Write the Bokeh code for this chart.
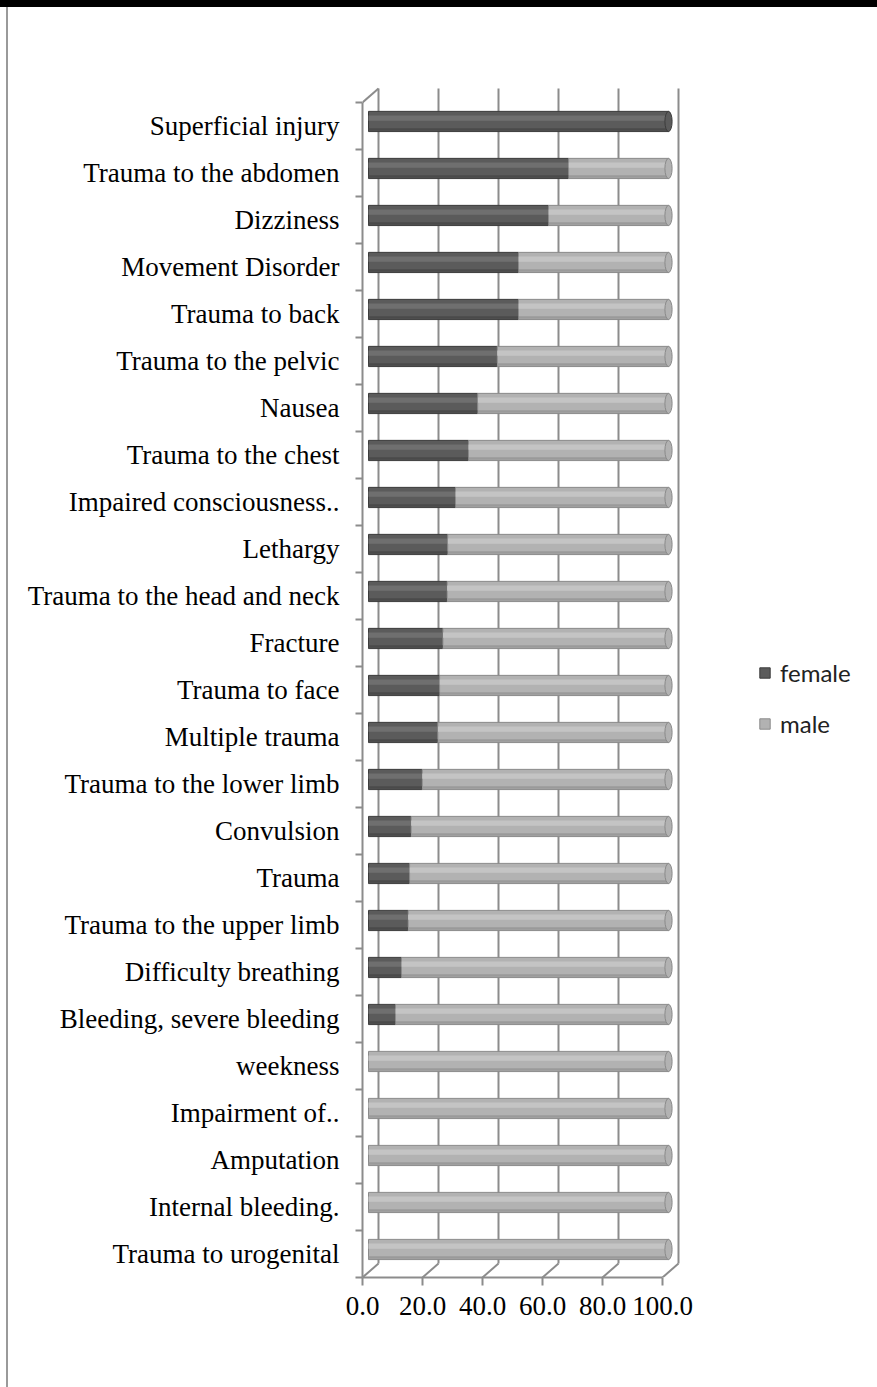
from bokeh.plotting import figure
from bokeh.models import Range1d, LinearAxis, FixedTicker, NumeralTickFormatter, Legend, LegendItem, Div
from bokeh.layouts import row
from bokeh.embed import file_html
from bokeh.resources import INLINE

categories = ["Superficial injury", "Trauma to the abdomen", "Dizziness", "Movement Disorder",
              "Trauma to back", "Trauma to the pelvic", "Nausea", "Trauma to the chest",
              "Impaired consciousness..", "Lethargy", "Trauma to the head and neck", "Fracture",
              "Trauma to face", "Multiple trauma", "Trauma to the lower limb", "Convulsion",
              "Trauma", "Trauma to the upper limb", "Difficulty breathing",
              "Bleeding, severe bleeding", "weekness", "Impairment of..", "Amputation",
              "Internal bleeding.", "Trauma to urogenital"]
female = [100.0, 66.7, 60.0, 50.0, 50.0, 42.9, 36.4, 33.3, 29.0, 26.4, 26.2, 24.8, 23.7,
          23.1, 17.9, 14.2, 13.7, 13.2, 11.0, 9.0, 0.0, 0.0, 0.0, 0.0, 0.0]
male = [0.0, 33.3, 40.0, 50.0, 50.0, 57.1, 63.6, 66.7, 71.0, 73.6, 73.8, 75.2, 76.3,
        76.9, 82.1, 85.8, 86.3, 86.8, 89.0, 91.0, 100.0, 100.0, 100.0, 100.0, 100.0]
x_ticks = [0, 20, 40, 60, 80, 100]

n = len(categories)
ypos = [n - 1 - i for i in range(n)]
total = [f + m for f, m in zip(female, male)]

# 3D box offsets (style constants, in data units)
FX, BX = -2.0, 10.0 / 3.0
FY, BY = -0.096, 0.202
BAR_H = 0.43

DARK, DARK_LINE, DARK_HI = "#5b5b5b", "#3c3c3c", "#6f6f6f"
LIGHT, LIGHT_LINE, LIGHT_HI = "#b2b2b2", "#8a8a8a", "#c4c4c4"
WALL = "#8c8c8c"

p = figure(width=876, height=1387, x_range=Range1d(-2, 169.333), y_range=Range1d(-0.596, 24.744),
           output_backend="svg", toolbar_location=None, x_axis_type=None, y_axis_type=None,
           min_border_left=362, min_border_right=0, min_border_top=86, min_border_bottom=110,
           margin=0)
p.outline_line_color = None
p.background_fill_color = "white"
p.border_fill_color = "white"
p.extra_x_ranges = {"front": Range1d(0, 171.333)}
p.extra_y_ranges = {"front": Range1d(-0.5, 24.840)}

# back wall gridlines
p.segment(x0=[t + BX for t in x_ticks], y0=[-0.5 + BY] * len(x_ticks),
          x1=[t + BX for t in x_ticks], y1=[n - 0.5 + BY] * len(x_ticks),
          line_color=WALL, line_width=2)
# floor diagonals
p.segment(x0=[t + FX for t in x_ticks], y0=[-0.5 + FY] * len(x_ticks),
          x1=[t + BX for t in x_ticks], y1=[-0.5 + BY] * len(x_ticks),
          line_color=WALL, line_width=2)
# top-left diagonal
p.segment(x0=[FX], y0=[n - 0.5 + FY], x1=[BX], y1=[n - 0.5 + BY], line_color=WALL, line_width=2)

# bars
fy = [y for y, f in zip(ypos, female) if f > 0]
fv = [f for f in female if f > 0]
my = [y for y, m in zip(ypos, male) if m > 0]
ml = [f for f, m in zip(female, male) if m > 0]
mr = [t for t, m in zip(total, male) if m > 0]

rf = p.hbar(y=fy, left=0, right=fv, height=BAR_H, fill_color=DARK, line_color=DARK_LINE, line_width=1)
rm = p.hbar(y=my, left=ml, right=mr, height=BAR_H, fill_color=LIGHT, line_color=LIGHT_LINE, line_width=1)
# highlight bands (cylinder shading)
p.hbar(y=[y + 0.07 for y in fy], left=0, right=fv, height=0.11, fill_color=DARK_HI, line_color=None)
p.hbar(y=[y + 0.07 for y in my], left=ml, right=mr, height=0.11, fill_color=LIGHT_HI, line_color=None)
p.hbar(y=[y - 0.17 for y in fy], left=0, right=fv, height=0.05, fill_color="#4a4a4a", line_color=None)
p.hbar(y=[y - 0.17 for y in my], left=ml, right=mr, height=0.05, fill_color="#9a9a9a", line_color=None)
# rounded end caps
cap_fill = [LIGHT if m > 0 else DARK for m in male]
cap_line = [LIGHT_LINE if m > 0 else DARK_LINE for m in male]
p.ellipse(x=total, y=ypos, width=2.4, height=BAR_H, fill_color=cap_fill, line_color=cap_line, line_width=1)

# axes
yax = LinearAxis(y_range_name="front",
                 ticker=FixedTicker(ticks=ypos, minor_ticks=[k - 0.5 for k in range(n + 1)]),
                 major_label_overrides={ypos[i]: categories[i] for i in range(n)},
                 bounds=(-0.5, n - 0.5))
yax.major_tick_out = 0
yax.major_tick_in = 0
yax.minor_tick_out = 7
yax.minor_tick_in = 0
yax.axis_line_color = WALL
yax.axis_line_width = 2
yax.minor_tick_line_color = WALL
yax.minor_tick_line_width = 2
yax.major_label_standoff = 16
yax.major_label_text_font = "Liberation Serif"
yax.major_label_text_font_size = "27px"
yax.major_label_text_color = "black"
p.add_layout(yax, "left")

xax = LinearAxis(x_range_name="front", ticker=FixedTicker(ticks=x_ticks),
                 formatter=NumeralTickFormatter(format="0.0"), bounds=(0, 100))
xax.major_tick_out = 8
xax.major_tick_in = 0
xax.minor_tick_out = 0
xax.axis_line_color = WALL
xax.axis_line_width = 2
xax.major_tick_line_color = WALL
xax.major_tick_line_width = 2
xax.major_label_standoff = 11
xax.major_label_text_font = "Liberation Serif"
xax.major_label_text_font_size = "27px"
xax.major_label_text_color = "black"
p.add_layout(xax, "below")

legend = Legend(items=[LegendItem(label="female", renderers=[rf]), LegendItem(label="male", renderers=[rm])],
                location=(396, 539), glyph_width=13, glyph_height=13, label_standoff=9,
                label_text_font="Lato", label_text_font_size="24px", label_text_color="#222222",
                spacing=22, padding=0, margin=0, border_line_color=None, background_fill_alpha=0)
p.add_layout(legend)

deco = Div(text='<div style="position:fixed;left:0;top:0;width:877px;height:7px;background:#000000;"></div>'
                '<div style="position:fixed;left:6px;top:7px;width:2px;height:1380px;background:#9a9a9a;"></div>',
           width=1, height=1, margin=0)
layout = row(p, deco, spacing=0, margin=0)

open("out.html", "w").write(file_html(layout, INLINE))
